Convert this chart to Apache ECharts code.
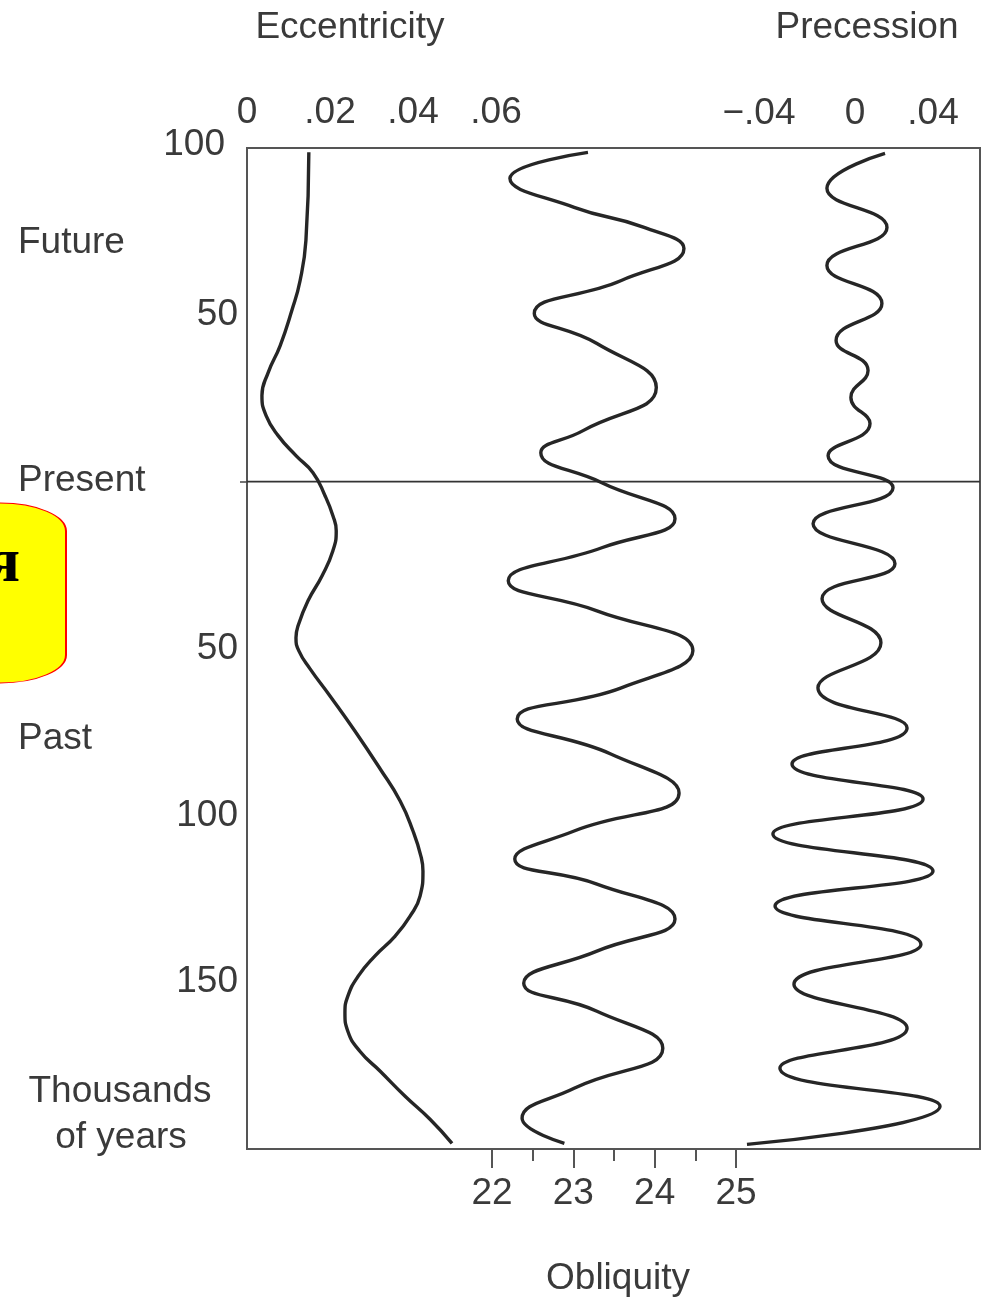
<!DOCTYPE html>
<html>
<head>
<meta charset="utf-8">
<script src="https://cdn.jsdelivr.net/npm/echarts@6/dist/echarts.min.js"></script>
<style>
html,body{margin:0;padding:0;background:#fff;}
#chart{width:981px;height:1297px;}
</style>
</head>
<body>
<div id="chart"></div>
<script>
// ---- Data (time in thousands of years; positive = future, negative = past) ----
const eccTime  = [98.7, 72.3, 60.3, 51.3, 40.8, 32.7, 25.8, 19.8, 13.8, 7.8, 2.7, -4.2, -10.2, -14.7, -20.7, -28.2, -35.7, -43.2, -46.8, -50.7, -56.1, -64.2, -74.7, -86.1, -95.7, -104.7, -112.2, -116.7, -124.2, -130.2, -136.2, -142.2, -148.2, -154.2, -159.3, -164.7, -170.7, -176.7, -184.2, -191.1, -198.3];
const eccValue = [0.0149, 0.0142, 0.0128, 0.0108, 0.0080, 0.0051, 0.0036, 0.0046, 0.0075, 0.0118, 0.0159, 0.0188, 0.0207, 0.0215, 0.0207, 0.0181, 0.0147, 0.0123, 0.0118, 0.0125, 0.0152, 0.0200, 0.0260, 0.0321, 0.0369, 0.0400, 0.0419, 0.0424, 0.0417, 0.0393, 0.0357, 0.0308, 0.0268, 0.0243, 0.0236, 0.0243, 0.0272, 0.0321, 0.0381, 0.0441, 0.0494];

const oblTime  = [98.7, 90.9, 82.2, 76.2, 69.9, 60.3, 50.4, 41.4, 28.2, 15.3, 8.7, -0.3, -11.1, -19.8, -29.7, -38.7, -50.7, -61.8, -71.1, -81.6, -93.3, -104.7, -113.1, -120.6, -131.1, -140.7, -150.3, -158.7, -169.8, -181.8, -190.8, -198.3];
const oblValue = [23.18, 22.22, 23.01, 23.87, 24.36, 23.59, 22.52, 23.29, 24.02, 23.12, 22.60, 23.35, 24.25, 23.35, 22.20, 23.29, 24.47, 23.59, 22.31, 23.46, 24.30, 23.01, 22.28, 23.29, 24.25, 23.29, 22.39, 23.29, 24.10, 23.01, 22.37, 22.89];

const precTime  = [98.4, 87.9, 76.2, 64.8, 53.4, 42.3, 33.3, 25.2, 17.4, 7.8, -1.8, -12.6, -24.6, -35.1, -48.3, -61.8, -73.8, -84.6, -95.1, -105.6, -116.7, -127.2, -138.6, -150.6, -163.8, -175.8, -187.2, -198.6];
const precValue = [0.0154, -0.0144, 0.0164, -0.0144, 0.0138, -0.0097, 0.0067, -0.0021, 0.0077, -0.0138, 0.0195, -0.0215, 0.0205, -0.0169, 0.0133, -0.0190, 0.0267, -0.0323, 0.0349, -0.0421, 0.0400, -0.0410, 0.0338, -0.0313, 0.0267, -0.0385, 0.0436, -0.0554];

const presentTime = [0];

// ---- Tick labels ----
const timeLabels = {'100':'100', '50':'50', '-50':'50', '-100':'100', '-150':'150'};
const eccLabels  = {'0':'0', '2':'.02', '4':'.04', '6':'.06'};
const precLabels = {'-4':'\u2212.04', '0':'0', '4':'.04'};
const oblLabels  = {'22':'22', '23':'23', '24':'24', '25':'25'};

const FONT = 'Liberation Sans';
const TXT = '#3a3a3a';
const LINE = '#262626';
const FS = 37;

function pairs(vals, times){ return vals.map((v,i)=>[v, times[i]]); }

const chart = echarts.init(document.getElementById('chart'), null, {renderer:'canvas'});

const hiddenY = (g) => ({gridIndex:g, type:'value', min:-200, max:100, show:false});

function label(text, x, y, align){
  return {type:'text', x:x, y:y, style:{text:text, fontSize:FS, fontFamily:FONT, fill:TXT,
    align:align, verticalAlign:'middle', textAlign:align, textVerticalAlign:'middle'}};
}

const option = {
  animation:false,
  backgroundColor:'#ffffff',
  grid:[
    {left:247, top:148, width:733, height:1001, show:true, borderColor:'#555', borderWidth:2, backgroundColor:'transparent'},
    {left:247, top:148, width:249, height:1001},
    {left:738, top:148, width:234, height:1001},
    {left:492, top:148, width:244, height:1001}
  ],
  xAxis:[
    {gridIndex:0, type:'value', min:0, max:1, show:false},
    {gridIndex:1, type:'value', position:'top', min:0, max:0.06, interval:0.02,
      axisLine:{show:false, onZero:false}, axisTick:{show:false}, splitLine:{show:false},
      axisLabel:{margin:17, fontSize:FS, fontFamily:FONT, color:TXT,
        formatter:v=>eccLabels[String(Math.round(v*100))] || ''}},
    {gridIndex:2, type:'value', position:'top', min:-0.06, max:0.06, interval:0.02,
      axisLine:{show:false, onZero:false}, axisTick:{show:false}, splitLine:{show:false},
      axisLabel:{margin:16, fontSize:FS, fontFamily:FONT, color:TXT,
        formatter:v=>{const k=String(Math.round(v*100)); if(k==='-4') return '{n|'+precLabels[k]+'}'; return precLabels[k]||'';},
        rich:{n:{fontSize:FS, fontFamily:FONT, color:TXT, padding:[0,36,0,0]}}}},
    {gridIndex:3, type:'value', position:'bottom', min:22, max:25, interval:1,
      axisLine:{show:false, onZero:false},
      axisTick:{show:true, length:19, lineStyle:{color:'#555', width:2}},
      minorTick:{show:true, splitNumber:2, length:12, lineStyle:{color:'#555', width:2}},
      splitLine:{show:false}, minorSplitLine:{show:false},
      axisLabel:{margin:26, fontSize:FS, fontFamily:FONT, color:TXT,
        formatter:v=>oblLabels[String(Math.round(v))]||''}}
  ],
  yAxis:[
    {gridIndex:0, type:'value', min:-200, max:100, interval:50,
      axisLine:{show:false, onZero:false},
      axisTick:{show:true, customValues:[0], length:7, lineStyle:{color:'#444', width:1.5}},
      splitLine:{show:false},
      axisLabel:{margin:9, fontSize:FS, fontFamily:FONT, color:TXT,
        formatter:v=>{const k=String(Math.round(v)); if(k==='100') return '{t|100}'; return timeLabels[k]||'';},
        rich:{t:{fontSize:FS, fontFamily:FONT, color:TXT, padding:[0,13,6,0]}}}},
    hiddenY(1), hiddenY(2), hiddenY(3)
  ],
  series:[
    {type:'line', xAxisIndex:0, yAxisIndex:0, data:[[0,presentTime[0]],[1,presentTime[0]]],
      showSymbol:false, silent:true, lineStyle:{color:'#333', width:1.6}},
    {type:'line', name:'Eccentricity', xAxisIndex:1, yAxisIndex:1, data:pairs(eccValue, eccTime),
      smooth:0.5, showSymbol:false, clip:false, lineStyle:{color:LINE, width:3.4}},
    {type:'line', name:'Precession', xAxisIndex:2, yAxisIndex:2, data:pairs(precValue, precTime),
      smooth:0.5, showSymbol:false, clip:false, lineStyle:{color:LINE, width:3.4}},
    {type:'line', name:'Obliquity', xAxisIndex:3, yAxisIndex:3, data:pairs(oblValue, oblTime),
      smooth:0.5, showSymbol:false, clip:false, lineStyle:{color:LINE, width:3.4}}
  ],
  graphic:[
    {type:'rect', x:0, y:503, scaleY:28/66,
      shape:{x:-120, y:0, width:186, height:180*66/28, r:[0,66,66,0]},
      style:{fill:'#ffff00', stroke:'#ff0000', lineWidth:2, strokeNoScale:true}},
    {type:'text', x:20, y:564, style:{text:'я', fontSize:64, fontWeight:'bold', fontFamily:'Liberation Serif', fill:'#000', align:'right', verticalAlign:'middle', textAlign:'right', textVerticalAlign:'middle'}},
    label('Eccentricity', 350, 28, 'center'),
    label('Precession', 867, 28, 'center'),
    label('Obliquity', 618, 1279, 'center'),
    label('Future', 18, 243, 'left'),
    label('Present', 18, 481, 'left'),
    label('Past', 18, 739, 'left'),
    label('Thousands', 120, 1092, 'center'),
    label('of years', 121, 1138, 'center')
  ]
};
chart.setOption(option);
</script>
</body>
</html>
